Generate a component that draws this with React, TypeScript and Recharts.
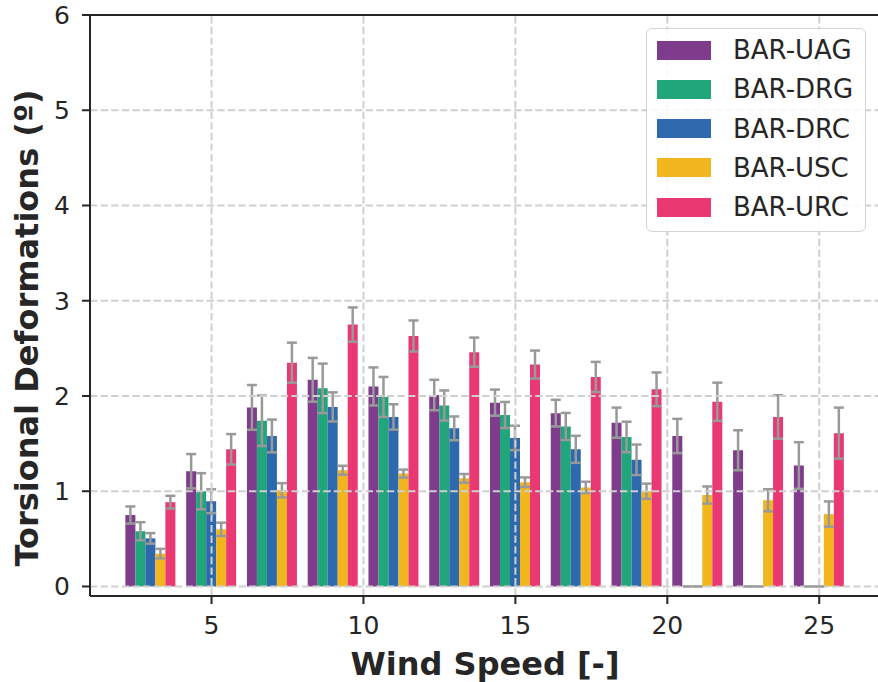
import React from 'react'
import { ComposedChart, Bar, Scatter, XAxis, YAxis, ErrorBar, ReferenceLine, Label } from 'recharts'

// wind speed bins (x positions of the bar groups)
const windSpeeds = [3, 5, 7, 9, 11, 13, 15, 17, 19, 21, 23, 25]

// DRG / DRC have no bar above 20 m/s, only a flat grey cap at zero
const uag = [0.75, 1.21, 1.88, 2.17, 2.1, 2.01, 1.93, 1.82, 1.72, 1.58, 1.43, 1.27]
const uagErr = [0.09, 0.18, 0.235, 0.23, 0.2, 0.16, 0.137, 0.14, 0.158, 0.18, 0.21, 0.245]
const drg = [0.58, 1.0, 1.74, 2.08, 1.99, 1.9, 1.8, 1.68, 1.57, 0, 0, 0]
const drgErr = [0.095, 0.19, 0.265, 0.26, 0.21, 0.158, 0.137, 0.142, 0.16, 0, 0, 0]
const drc = [0.505, 0.895, 1.58, 1.885, 1.78, 1.66, 1.56, 1.44, 1.33, 0, 0, 0]
const drcErr = [0.055, 0.125, 0.172, 0.153, 0.133, 0.125, 0.128, 0.142, 0.16, 0, 0, 0]
const usc = [0.345, 0.6, 1.01, 1.22, 1.185, 1.135, 1.095, 1.04, 1.0, 0.96, 0.905, 0.76]
const uscErr = [0.05, 0.07, 0.075, 0.047, 0.042, 0.046, 0.05, 0.06, 0.08, 0.09, 0.116, 0.133]
const urc = [0.885, 1.44, 2.35, 2.75, 2.63, 2.46, 2.33, 2.2, 2.07, 1.94, 1.78, 1.61]
const urcErr = [0.067, 0.16, 0.21, 0.18, 0.163, 0.153, 0.147, 0.158, 0.177, 0.2, 0.228, 0.268]

const xTicks = [5, 10, 15, 20, 25]
const yTicks = [0, 1, 2, 3, 4, 5, 6]

const series = [
  { key: 'uag', name: 'BAR-UAG', color: '#7f3b8c' },
  { key: 'drg', name: 'BAR-DRG', color: '#20a67a' },
  { key: 'drc', name: 'BAR-DRC', color: '#2f69ad' },
  { key: 'usc', name: 'BAR-USC', color: '#f1b51e' },
  { key: 'urc', name: 'BAR-URC', color: '#e93872' },
]

const data = windSpeeds.map((ws, i) => ({
  ws,
  uag: uag[i], uagErr: uagErr[i],
  drg: drg[i], drgErr: drgErr[i],
  drc: drc[i], drcErr: drcErr[i],
  usc: usc[i], uscErr: uscErr[i],
  urc: urc[i], urcErr: urcErr[i],
}))

// zero-valued DRG/DRC entries: recharts skips their error caps, so draw them here
const zeroCaps = windSpeeds
  .map((ws, i) => ({ ws, v: drg[i] }))
  .filter((_, i) => drg[i] === 0 && drc[i] === 0)

const FONT = 'DejaVu Sans'
const AXIS = '#262626'
const GRID = '#cfcfcf'
const ERR = '#999999'

function ZeroCap(props: any) {
  const { cx, cy } = props
  if (cx == null || cy == null) return null
  return (
    <g>
      <line x1={cx - 15} x2={cx - 5} y1={cy} y2={cy} stroke={ERR} strokeWidth={2.5} />
      <line x1={cx - 5} x2={cx + 5} y1={cy} y2={cy} stroke={ERR} strokeWidth={2.5} />
    </g>
  )
}

function LegendBox() {
  return (
    <div
      style={{
        position: 'absolute', left: 646, top: 28, width: 220, height: 204,
        boxSizing: 'border-box', border: '1.5px solid #d4d4d4', borderRadius: 6,
        background: 'rgba(255,255,255,0.85)', fontFamily: FONT,
      }}
    >
      {series.map((s, i) => {
        const cy = 21 + i * 39.25
        return (
          <React.Fragment key={s.key}>
            <div style={{ position: 'absolute', left: 10, top: cy - 9.5, width: 54, height: 19, background: s.color }} />
            <div style={{ position: 'absolute', left: 86, top: cy - 15, height: 30, lineHeight: '30px', fontSize: 26, color: AXIS, whiteSpace: 'nowrap' }}>
              {s.name}
            </div>
          </React.Fragment>
        )
      })}
    </div>
  )
}

export default function App() {
  return (
    <div style={{ position: 'absolute', left: 0, top: 0, width: 878, height: 682, overflow: 'hidden', background: '#fff' }}>
      <ComposedChart width={880} height={682} data={data} margin={{ top: 15, right: 0, bottom: 0, left: 0 }} barGap={0}>
        <XAxis
          type="number"
          dataKey="ws"
          domain={[1, 27]}
          ticks={xTicks}
          allowDataOverflow
          height={86}
          axisLine={{ stroke: AXIS, strokeWidth: 2 }}
          tickLine={{ stroke: AXIS, strokeWidth: 2 }}
          tickSize={8}
          tickMargin={12}
          tick={{ fill: AXIS, fontSize: 25, fontFamily: FONT }}
        >
          <Label
            content={() => (
              <text x={485} y={675} textAnchor="middle" fontFamily={FONT} fontWeight="bold" fontSize={32} fill={AXIS}>
                Wind Speed [-]
              </text>
            )}
          />
        </XAxis>
        <YAxis
          type="number"
          domain={[-0.1, 6]}
          ticks={yTicks}
          allowDataOverflow
          width={90}
          axisLine={{ stroke: AXIS, strokeWidth: 2 }}
          tickLine={{ stroke: AXIS, strokeWidth: 2 }}
          tickSize={8}
          tickMargin={12}
          tick={{ fill: AXIS, fontSize: 25, fontFamily: FONT }}
        >
          <Label
            content={() => (
              <text x={38} y={328} transform="rotate(-90, 38, 328)" textAnchor="middle" fontFamily={FONT} fontWeight="bold" fontSize={32} fill={AXIS}>
                Torsional Deformations (º)
              </text>
            )}
          />
        </YAxis>
        <ReferenceLine y={0} stroke={GRID} strokeWidth={2} strokeDasharray="7.4 3.2" />
        {series.map((s) => (
          <Bar key={s.key} dataKey={s.key} name={s.name} fill={s.color} barSize={10} isAnimationActive={false}>
            <ErrorBar dataKey={s.key + 'Err'} direction="y" width={5} stroke={ERR} strokeWidth={2.5} isAnimationActive={false} />
          </Bar>
        ))}
        {[1, 2, 3, 4, 5].map((v) => (
          <ReferenceLine key={'gy' + v} y={v} stroke={GRID} strokeWidth={2} strokeDasharray="7.4 3.2" />
        ))}
        {xTicks.map((v) => (
          <ReferenceLine key={'gx' + v} x={v} stroke={GRID} strokeWidth={2} strokeDasharray="7.4 3.2" />
        ))}
        <Scatter data={zeroCaps} dataKey="v" shape={<ZeroCap />} isAnimationActive={false} />
        <ReferenceLine y={6} stroke={AXIS} strokeWidth={2} />
      </ComposedChart>
      <LegendBox />
    </div>
  )
}
